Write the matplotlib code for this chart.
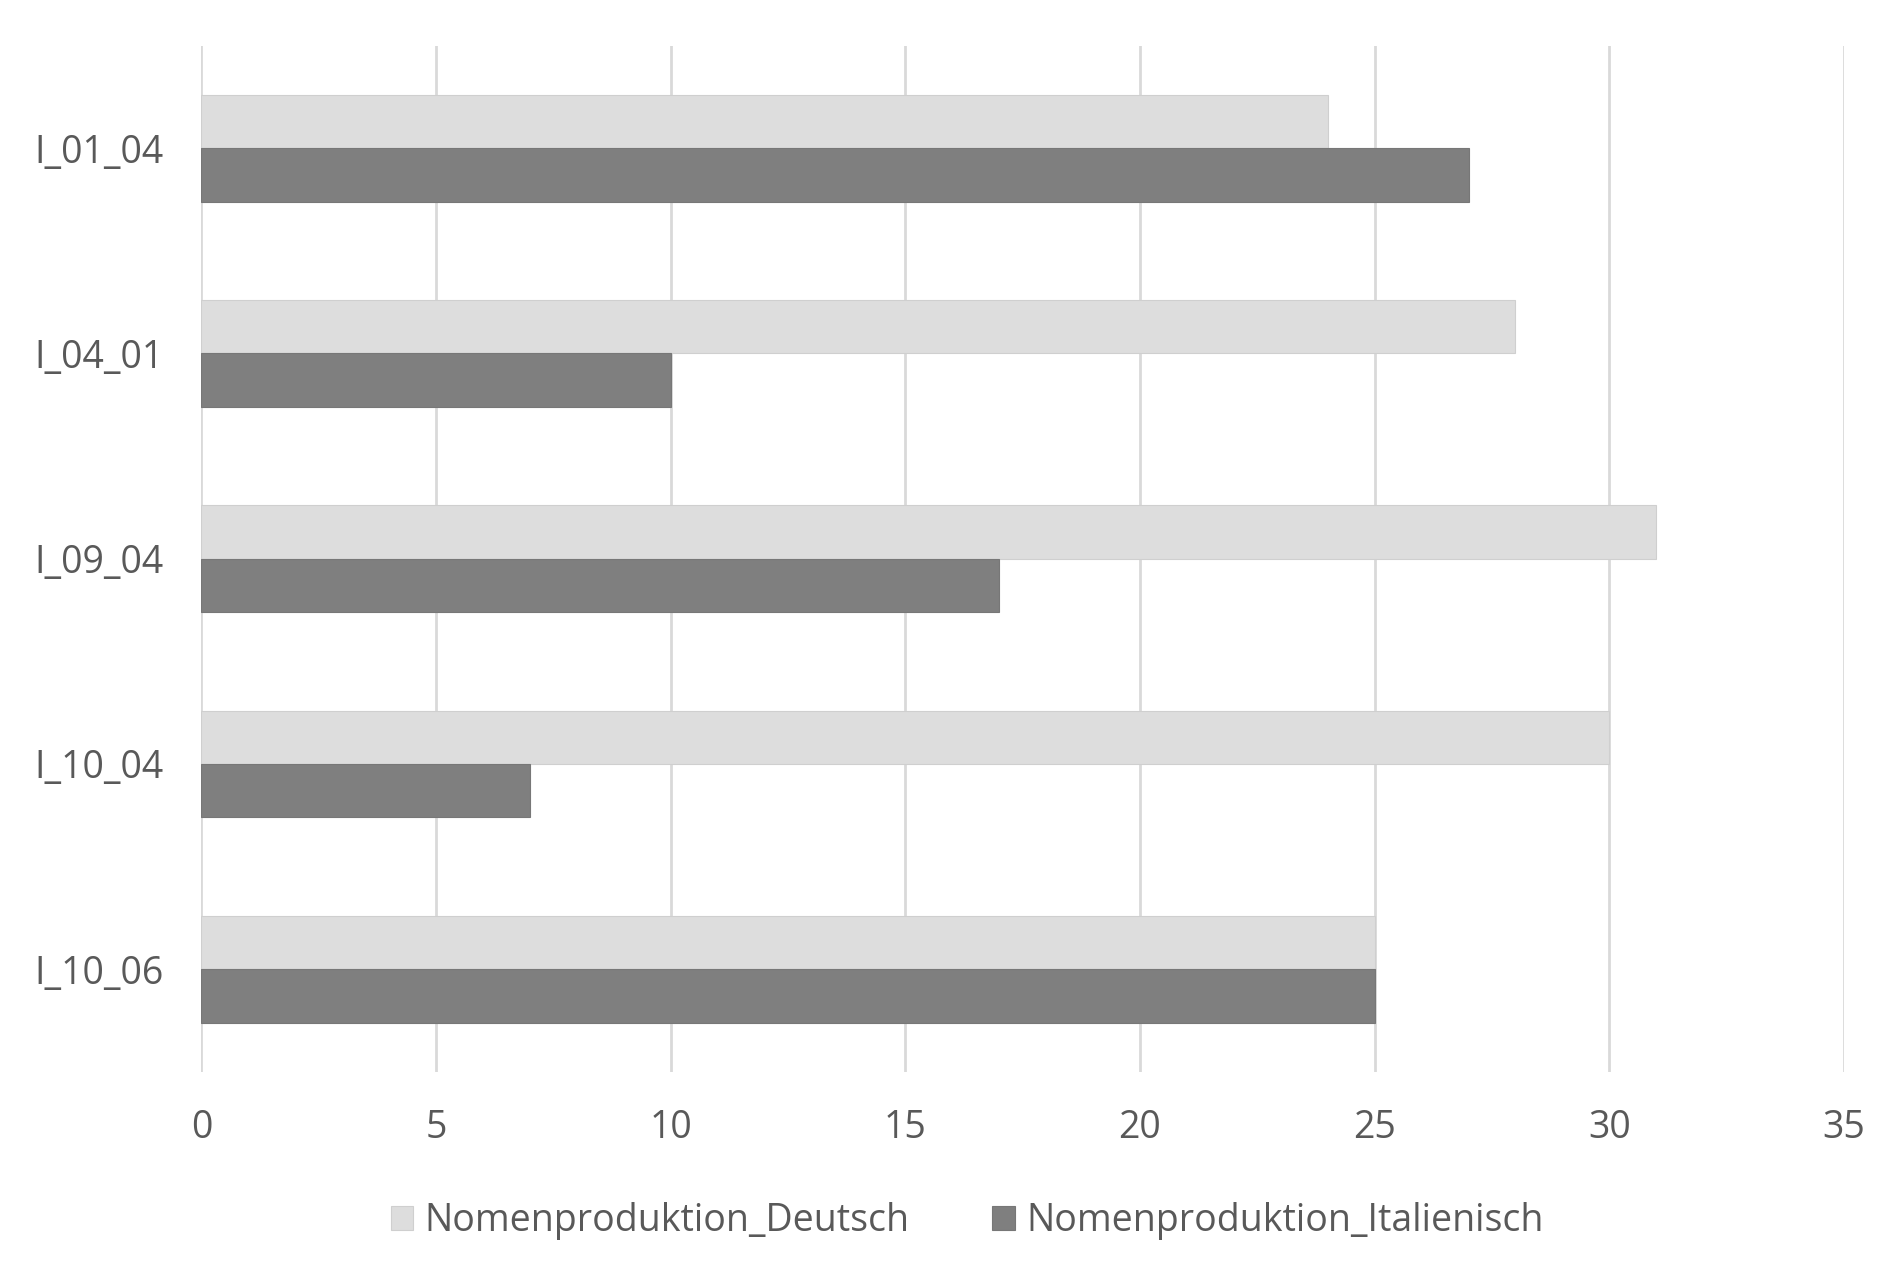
import matplotlib
matplotlib.use("Agg")
import matplotlib.pyplot as plt
import numpy as np

categories = ["I_01_04", "I_04_01", "I_09_04", "I_10_04", "I_10_06"]
deutsch = [24, 28, 31, 30, 25]
italienisch = [27, 10, 17, 7, 25]
legend = ["Nomenproduktion_Deutsch", "Nomenproduktion_Italienisch"]
xticks = [0, 5, 10, 15, 20, 25, 30, 35]

plt.rcParams["font.family"] = ["Open Sans", "DejaVu Sans"]
text_col = "#595959"

fig = plt.figure(figsize=(19, 12.64), dpi=100)
ax = fig.add_axes([0.106, 0.152, 0.8645, 0.812])

y = np.arange(len(categories))
h = 0.26
ax.barh(y - h / 2, deutsch, height=h, color="#dddddd", edgecolor="#cfcfcf",
        linewidth=0.8, label=legend[0], zorder=3)
ax.barh(y + h / 2, italienisch, height=h, color="#7f7f7f", edgecolor="#777777",
        linewidth=0.8, label=legend[1], zorder=3)

ax.set_xlim(0, 35)
ax.set_ylim(len(categories) - 0.5, -0.5)
ax.set_xticks(xticks)
ax.set_yticks(y)
ax.set_yticklabels(categories)
ax.grid(axis="x", color="#d9d9d9", linewidth=2, zorder=0)
for s in ax.spines.values():
    s.set_visible(False)
ax.tick_params(axis="both", length=0, labelsize=27, labelcolor=text_col)
ax.tick_params(axis="x", pad=27)
ax.tick_params(axis="y", pad=27)

fig.legend(loc="center", bbox_to_anchor=(0.509, 0.034), ncol=2, frameon=False,
           fontsize=27, labelcolor=text_col, handlelength=0.6, handleheight=0.6,
           handletextpad=0.3, columnspacing=2.2)

fig.savefig("out.png", dpi=100)
